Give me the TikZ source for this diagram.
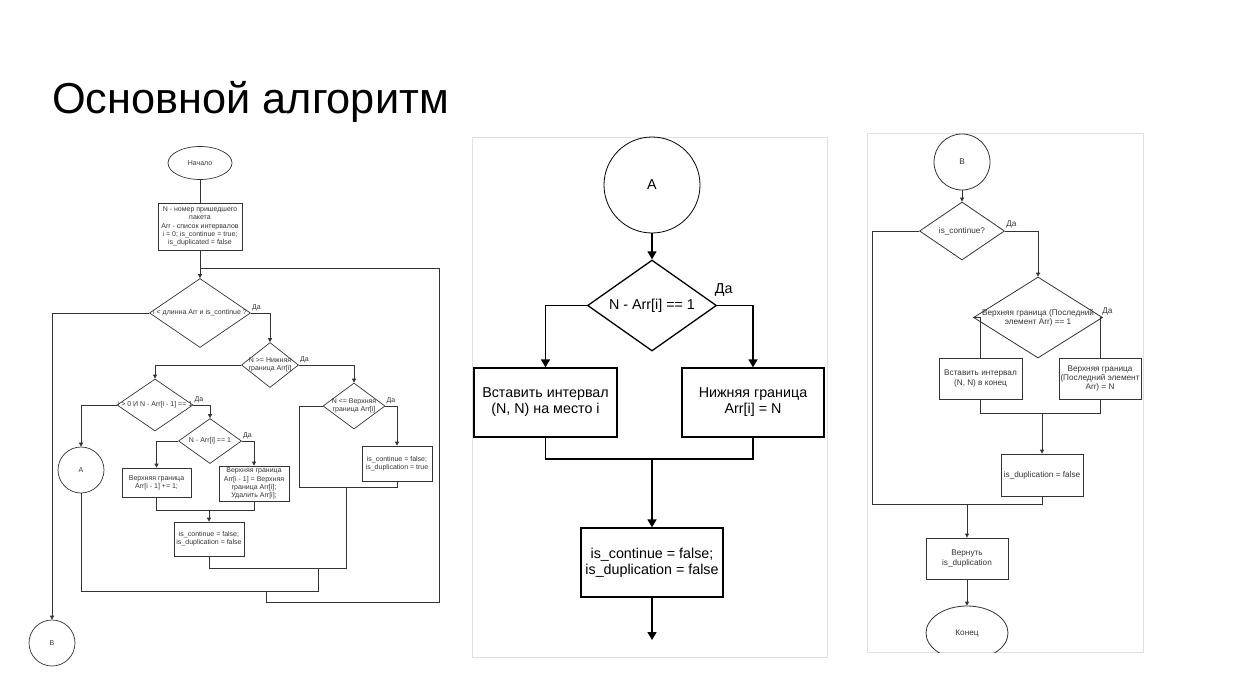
\documentclass[tikz,border=0pt]{standalone}
\usepackage{fontspec}
\setmainfont{Liberation Sans}
\usetikzlibrary{shapes.geometric,arrows.meta}

\tikzset{
  box/.style={draw, rectangle, align=center, inner sep=0pt},
  term/.style={draw, ellipse, align=center, inner sep=0pt},
  conn/.style={draw, circle, inner sep=0pt},
  dec/.style={draw, diamond, inner sep=0pt},
  yes/.style={anchor=south west, inner sep=0pt, xshift=1pt, yshift=2pt},
  arr/.style={-{Triangle[length=4pt,width=4pt]}},
  bigarr/.style={-{Triangle[length=8pt,width=9pt]}},
  panel/.style={draw=black!12, line width=0.8pt}
}

\begin{document}
\begin{tikzpicture}[x=1pt,y=-1pt]
  \useasboundingbox (0,0) rectangle (1241,695);

  % title
  \node[anchor=base west, inner sep=0pt, font=\fontsize{43.3}{50}\selectfont] (title) at (52,113.5) {Основной алгоритм};

  % left chart
  \begin{scope}[font=\fontsize{7}{8.3}\selectfont, color=black!80, line width=0.7pt]
    \node[term, minimum width=64pt, minimum height=33pt] (start) at (200,163) {Начало};
    \node[box, minimum width=84pt, minimum height=47pt] (init) at (200,226.5)
      {N - номер пришедшего\\пакета\\Arr - список интервалов\\i = 0; is\_continue = true;\\is\_duplicated = false};
    \node[dec, minimum width=101pt, minimum height=69pt, label={center:i < длинна Arr и is\_continue ?}] (cond) at (200,313) {};
    \node[dec, minimum width=57pt, minimum height=45pt, label={[align=center]center:N >= Нижняя\\граница Arr[i]}] (lower) at (270,365) {};
    \node[dec, minimum width=76pt, minimum height=52pt, label={center:i > 0 И N - Arr[i - 1] == 1}] (prev) at (155,405) {};
    \node[dec, minimum width=62pt, minimum height=46pt, label={[align=center]center:N <= Верхняя\\граница Arr[i]}] (upper) at (354,406) {};
    \node[dec, minimum width=63pt, minimum height=45pt, label={center:N - Arr[i] == 1}] (next) at (210,441) {};
    \node[conn, minimum size=46pt] (A) at (81,470) {A};
    \node[conn, minimum size=46pt] (B) at (52,643) {B};
    \node[box, minimum width=69pt, minimum height=29pt] (incr) at (156.5,482.5) {Верхняя граница\\Arr[i - 1] += 1;};
    \node[box, minimum width=70pt, minimum height=35pt] (merge) at (254,483.5) {Верхняя граница\\Arr[i - 1] = Верхняя\\граница Arr[i];\\Удалить Arr[i];};
    \node[box, minimum width=70pt, minimum height=34pt] (found) at (209,539) {is\_continue = false;\\is\_duplication = false};
    \node[box, minimum width=70pt, minimum height=35pt] (inside) at (397,463.5) {is\_continue = false;\\is\_duplication = true};

    \coordinate (j1) at (209,510);
    \coordinate (j2) at (299,487);
    \coordinate (j3) at (346,487);
    \coordinate (j4) at (318,568);
    \coordinate (j5) at (266,591);
    \coordinate (back) at (439,602);
    \coordinate (loop) at (200,268);

    \draw (start) -- (init);
    \draw[arr] (init) -- (cond);
    \draw[arr] (cond.east) -| (lower.north);
    \node[yes] (cy) at (cond.east) {Да};
    \draw[arr] (cond.west) -| (B.north);
    \draw[arr] (lower.west) -| (prev.north);
    \draw[arr] (lower.east) -| (upper.north);
    \node[yes] (ly) at (lower.east) {Да};
    \draw[arr] (prev.west) -| (A.north);
    \draw[arr] (prev.east) -| (next.north);
    \node[yes] (py) at (prev.east) {Да};
    \draw[arr] (next.west) -| (incr.north);
    \draw[arr] (next.east) -| (merge.north);
    \node[yes] (ny) at (next.east) {Да};
    \draw[arr] (upper.east) -| (inside.north);
    \node[yes] (uy) at (upper.east) {Да};
    \draw (incr.south) -- (incr.south |- j1) -- (merge.south |- j1) -- (merge.south);
    \draw[arr] (j1) -- (found.north);
    \draw (upper.west) -| (j2) -- (inside.south |- j2) -- (inside.south);
    \draw (found.south) |- (j3 |- j4) -- (j3);
    \draw (j4) -- (j4 |- j5) -- (A.south |- j5) -- (A.south);
    \draw (j5) |- (back) |- (loop);
  \end{scope}

  % middle panel
  \draw[panel] (472,137) rectangle (827,657);
  \begin{scope}[font=\fontsize{14.3}{16}\selectfont, line width=1.6pt]
    \node[conn, minimum size=96pt, line width=0.8pt] (A2) at (652,185) {A};
    \node[dec, minimum width=129pt, minimum height=91pt, line width=1.3pt, label={center:N - Arr[i] == 1}] (step) at (652,305.5) {};
    \node[box, minimum width=143pt, minimum height=69pt, line width=1.3pt] (insert) at (545.5,402.5) {Вставить интервал\\(N, N) на место i};
    \node[box, minimum width=142pt, minimum height=69pt, line width=1.3pt] (setlow) at (753,402.5) {Нижняя граница\\Arr[i] = N};
    \node[box, minimum width=142pt, minimum height=69pt, line width=1.3pt] (done) at (652,562.5) {is\_continue = false;\\is\_duplication = false};
    \node[anchor=south west, inner sep=0pt] (sy) at ([xshift=-3pt,yshift=8pt]step.east) {Да};
    \coordinate (mj) at (652,459);
    \coordinate (mend) at (652,640);

    \draw[bigarr] (A2) -- (step);
    \draw[bigarr] (step.west) -| (insert.north);
    \draw[bigarr] (step.east) -| (setlow.north);
    \draw (insert.south) -- (insert.south |- mj) -- (setlow.south |- mj) -- (setlow.south);
    \draw[bigarr] (mj) -- (done.north);
    \draw[bigarr] (done.south) -- (mend);
  \end{scope}

  % right panel
  \draw[panel] (867,133) rectangle (1143,652);
  \begin{scope}[font=\fontsize{8.2}{9.3}\selectfont, color=black!80, line width=0.8pt]
    \clip (867,133) rectangle (1143,652);
    \node[conn, minimum size=56pt] (B2) at (962,162) {B};
    \node[dec, minimum width=85pt, minimum height=58pt, label={center:is\_continue?}] (cont) at (962,231) {};
    \node[dec, minimum width=129pt, minimum height=81pt, label={[align=center]center:Верхняя граница (Последний\\элемент Arr) == 1}] (last) at (1038,317.5) {};
    \node[box, minimum width=83pt, minimum height=41pt] (append) at (980.5,378.5) {Вставить интервал\\(N, N) в конец};
    \node[box, minimum width=82pt, minimum height=41pt] (extend) at (1100,378.5) {Верхняя граница\\(Последний элемент\\Arr) = N};
    \node[box, minimum width=82pt, minimum height=42pt] (nodup) at (1042,475) {is\_duplication = false};
    \node[box, minimum width=82pt, minimum height=41pt] (ret) at (967,558.5) {Вернуть\\is\_duplication};
    \node[term, minimum width=82pt, minimum height=54pt] (finish) at (967,633) {Конец};
    \node[yes] (ky) at (cont.east) {Да};
    \node[yes] (ty) at ([xshift=-2pt]last.east) {Да};
    \coordinate (rj) at (1042,413);
    \coordinate (rc) at (872,504);
    \coordinate (rm) at (967,504);

    \draw[arr] (B2) -- (cont);
    \draw[arr] (cont.east) -| (last.north);
    \draw (cont.west) -| (rc) -- (nodup.south |- rc) -- (nodup.south);
    \draw (last.west) -| (append.north);
    \draw (last.east) -| (extend.north);
    \draw (append.south) -- (append.south |- rj) -- (extend.south |- rj) -- (extend.south);
    \draw[arr] (rj) -- (nodup.north);
    \draw[arr] (rm) -- (ret.north);
    \draw[arr] (ret) -- (finish);
  \end{scope}
\end{tikzpicture}
\end{document}
